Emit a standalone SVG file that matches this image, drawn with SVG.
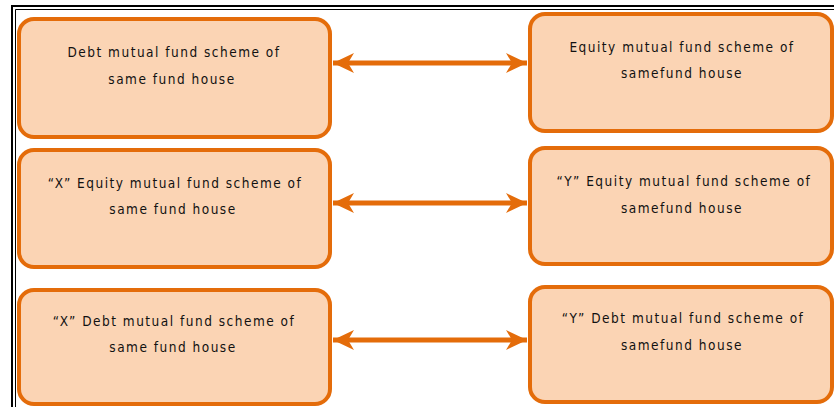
<svg xmlns="http://www.w3.org/2000/svg" width="834" height="407" viewBox="0 0 834 407">
<defs>
<style>
.box{fill:#FBD4B4;stroke:#E46C0A;stroke-width:4}
.t{font-family:"DejaVu Sans Condensed","DejaVu Sans",sans-serif;font-size:13.5px;fill:#111;text-anchor:middle;letter-spacing:1.5px}
.conn{stroke:#E46C0A;stroke-width:5;fill:none}
.frame{stroke:#000;fill:none}
</style>
<marker id="ah" markerUnits="userSpaceOnUse" markerWidth="26" markerHeight="26" viewBox="-24 -13 26 26" refX="0" refY="0" orient="auto-start-reverse">
<path d="M0,0 L-21,-10 L-15,0 L-21,10 Z" fill="#E46C0A"/>
</marker>
</defs>
<rect width="834" height="407" fill="#fff"/>
<g id="frame">
<path class="frame" stroke-width="2" d="M12,407 V6 H834"/>
<path class="frame" stroke-width="1" d="M15.5,407 V9.5 H834"/>
</g>
<g id="connectors">
<line class="conn" x1="333" y1="63" x2="527" y2="63" marker-start="url(#ah)" marker-end="url(#ah)"/>
<line class="conn" x1="333" y1="203" x2="527" y2="203" marker-start="url(#ah)" marker-end="url(#ah)"/>
<line class="conn" x1="333" y1="340" x2="527" y2="340" marker-start="url(#ah)" marker-end="url(#ah)"/>
</g>
<g id="n1">
<rect class="box" x="19" y="19" width="311" height="118" rx="15"/>
<text class="t" x="174" y="57">Debt mutual fund scheme of</text>
<text class="t" x="172" y="84">same fund house</text>
</g>
<g id="n2">
<rect class="box" x="530" y="14" width="302" height="117" rx="15"/>
<text class="t" x="682" y="52">Equity mutual fund scheme of</text>
<text class="t" x="682" y="78">samefund house</text>
</g>
<g id="n3">
<rect class="box" x="19" y="150" width="311" height="117" rx="15"/>
<text class="t" x="175" y="188">“X” Equity mutual fund scheme of</text>
<text class="t" x="173" y="214">same fund house</text>
</g>
<g id="n4">
<rect class="box" x="530" y="148" width="302" height="116" rx="15"/>
<text class="t" x="684" y="186">“Y” Equity mutual fund scheme of</text>
<text class="t" x="682" y="213">samefund house</text>
</g>
<g id="n5">
<rect class="box" x="19" y="290" width="311" height="114" rx="15"/>
<text class="t" x="174" y="326">“X” Debt mutual fund scheme of</text>
<text class="t" x="173" y="352">same fund house</text>
</g>
<g id="n6">
<rect class="box" x="530" y="287" width="302" height="115" rx="15"/>
<text class="t" x="683" y="323">“Y” Debt mutual fund scheme of</text>
<text class="t" x="682" y="350">samefund house</text>
</g>
</svg>
